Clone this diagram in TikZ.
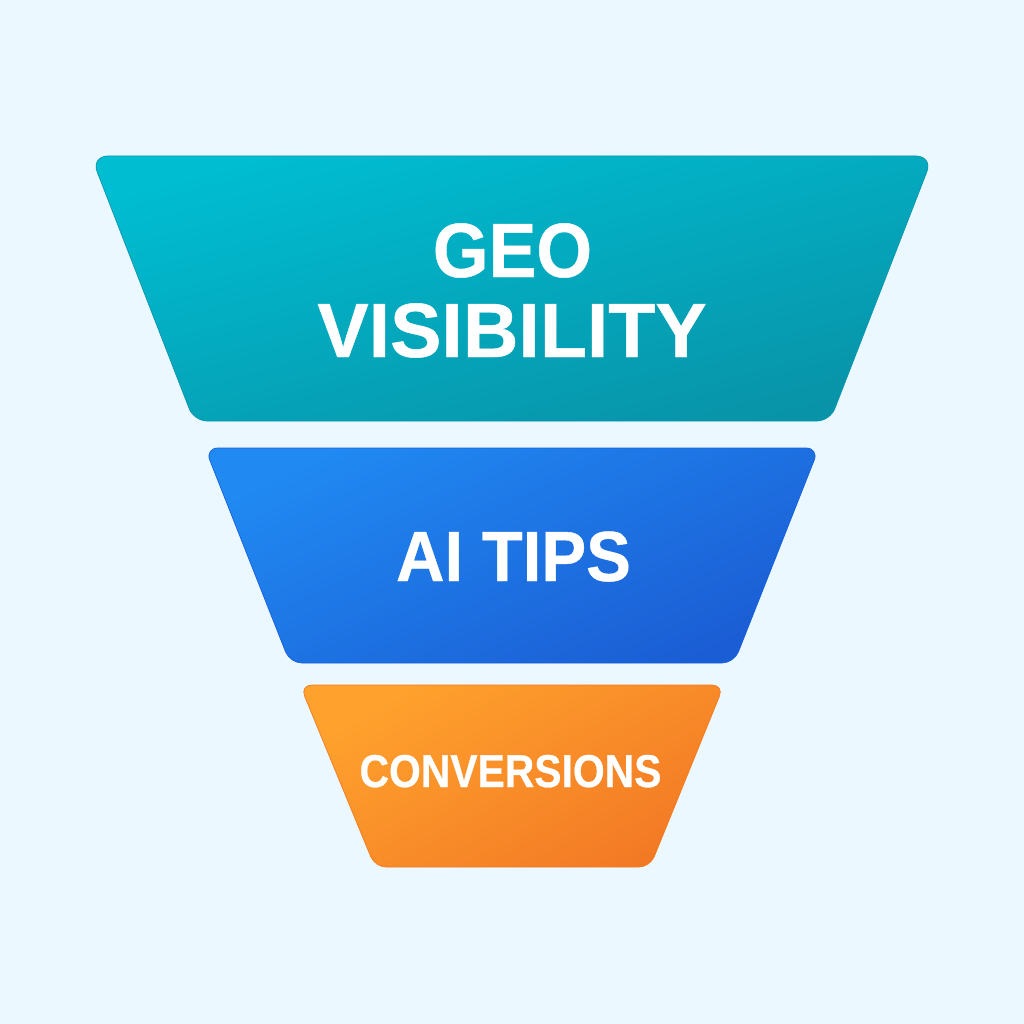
\documentclass[tikz,border=0pt]{standalone}
\usepackage{fontspec}
\setmainfont[BoldFeatures={FakeBold=0.6}]{Liberation Sans}
\definecolor{bgc}{HTML}{EBF8FF}
\definecolor{tealA}{HTML}{00BDD2}
\definecolor{tealB}{HTML}{0893A8}
\definecolor{tealE}{HTML}{0A96AC}
\definecolor{blueA}{HTML}{2089F2}
\definecolor{blueB}{HTML}{1B5DD4}
\definecolor{blueE}{HTML}{1560DC}
\definecolor{orA}{HTML}{FFA22D}
\definecolor{orB}{HTML}{F37A25}
\definecolor{orE}{HTML}{F47A1E}
\tikzset{
  x=1pt,y=-1pt,
  tierlabel/.style={text=white,font=\bfseries,inner sep=0pt,align=center},
}
\begin{document}
\begin{tikzpicture}
\fill[bgc] (0,0) rectangle (1024,1024);
\useasboundingbox (0,0) rectangle (1024,1024);
% teal
\shadedraw[draw=tealE,line width=.7pt,top color=tealA,bottom color=tealB,shading angle=15]
  (300,156) [rounded corners=17pt] -- (933,156) [rounded corners=13pt] -- (830,421) -- (194,421) [rounded corners=17pt] -- (91,156) [sharp corners] -- cycle;
% blue
\shadedraw[draw=blueE,line width=.7pt,top color=blueA,bottom color=blueB,shading angle=25]
  (400,448) [rounded corners=13pt] -- (819,448) [rounded corners=12pt] -- (734,663) -- (290,663) [rounded corners=13pt] -- (205,448) [sharp corners] -- cycle;
% orange
\shadedraw[draw=orE,line width=.7pt,top color=orA,bottom color=orB,shading angle=30]
  (450,685) [rounded corners=12pt] -- (724,685) [rounded corners=11pt] -- (650,867) -- (375,867) [rounded corners=12pt] -- (300,685) [sharp corners] -- cycle;
\node[tierlabel,anchor=base] (geo) at (512.5,277) {\fontsize{77}{80}\selectfont\scalebox{.93}[1]{GEO}};
\node[tierlabel,anchor=base] (vis) at (512,357) {\fontsize{77}{80}\selectfont VISIBILITY};
\node[tierlabel,anchor=base] (tips) at (513.5,581) {\fontsize{71}{80}\selectfont\scalebox{.945}[1]{AI TIPS}};
\node[tierlabel,anchor=base] (conv) at (510.5,787) {\fontsize{46}{50}\selectfont\scalebox{.888}[1]{CONVERSIONS}};
\end{tikzpicture}
\end{document}
